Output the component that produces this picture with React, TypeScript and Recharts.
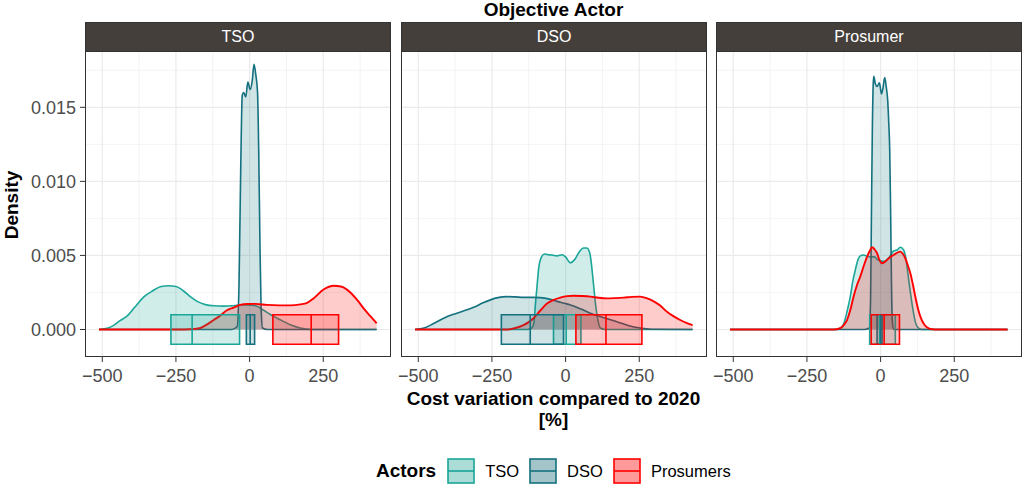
import React from "react";
import {
  ComposedChart,
  Area,
  XAxis,
  YAxis,
  CartesianGrid,
  ReferenceArea,
  ReferenceLine,
} from "recharts";

// colours per actor
const TSO_COLOR = "#1AA698";
const DSO_COLOR = "#14717F";
const PRO_COLOR = "#FF0000";

const actors = ["TSO", "DSO", "Prosumers"];
const facets = ["TSO", "DSO", "Prosumer"];

const xTicks = [-500, -250, 0, 250];
const xMinor = [-375, -125, 125, 375];
const yTicks = [0, 0.005, 0.01, 0.015];
const yMinor = [0.0025, 0.0075, 0.0125, 0.0175];

const X_DOMAIN: [number, number] = [-558.6, 479.9];
const Y_DOMAIN: [number, number] = [-0.001856, 0.018733];

// density curves: [cost variation %, density]
const tsoFacetTso: [number, number][] = [
  [-511, 0], [-480, 0.0001], [-460, 0.0003], [-440, 0.0006], [-416, 0.0009],
  [-390, 0.0015], [-359, 0.0022], [-330, 0.0026], [-300, 0.0029], [-275, 0.00295],
  [-250, 0.0029], [-224, 0.0026], [-200, 0.0022], [-178, 0.0019], [-150, 0.00168],
  [-120, 0.0016], [-90, 0.00158], [-60, 0.0016], [-37, 0.00165], [-10, 0.00165],
  [20, 0.0016], [48, 0.0013], [80, 0.0009], [110, 0.0006], [140, 0.0003],
  [172, 0.0001], [210, 0], [431, 0],
];
const tsoFacetDso: [number, number][] = [
  [-511, 0], [-60, 0], [-42, 0.0002], [-36, 0.003], [-30, 0.011], [-25, 0.0158],
  [-20, 0.016], [-13, 0.0157], [-6, 0.0167], [2, 0.0162], [9, 0.0168], [15, 0.0179],
  [21, 0.0172], [27, 0.016], [31, 0.012], [35, 0.006], [39, 0.0015], [44, 0.0001],
  [60, 0], [431, 0],
];
const tsoFacetPro: [number, number][] = [
  [-511, 0], [-220, 0], [-190, 0.00003], [-167, 0.0001], [-140, 0.0004],
  [-122, 0.00064], [-99, 0.00095], [-77, 0.0013], [-54, 0.00148], [-32, 0.00166],
  [-5, 0.00172], [20, 0.00173], [59, 0.00166], [100, 0.00163], [140, 0.00163],
  [172, 0.0017], [195, 0.0018], [217, 0.0021], [251, 0.0027], [285, 0.00295],
  [310, 0.0029], [342, 0.0025], [365, 0.002], [387, 0.00143], [410, 0.0009],
  [431, 0.00042],
];

const dsoFacetTso: [number, number][] = [
  [-511, 0], [-130, 0], [-115, 0.0001], [-108, 0.0004], [-102, 0.0018], [-97, 0.0029],
  [-91, 0.0042], [-84, 0.0048], [-72, 0.0051], [-60, 0.00505], [-46, 0.00503],
  [-29, 0.00497], [-12, 0.00505], [0, 0.0049], [16, 0.0045], [30, 0.0047],
  [45, 0.0052], [61, 0.0055], [72, 0.0055], [80, 0.0053], [86, 0.0047], [91, 0.0038],
  [97, 0.0026], [103, 0.0015], [110, 0.0006], [118, 0.0001], [135, 0], [431, 0],
];
const dsoFacetDso: [number, number][] = [
  [-511, 0], [-480, 0.0001], [-448, 0.0004], [-410, 0.0008], [-369, 0.0011],
  [-340, 0.0013], [-312, 0.0015], [-280, 0.0018], [-255, 0.002], [-230, 0.00215],
  [-200, 0.00222], [-170, 0.0022], [-143, 0.00217], [-110, 0.00217], [-86, 0.00215],
  [-55, 0.00205], [-29, 0.0019], [0, 0.00175], [16, 0.00166], [50, 0.0014],
  [84, 0.0011], [130, 0.0008], [174, 0.00053], [215, 0.00025], [253, 0.0001],
  [290, 0.00002], [431, 0],
];
const dsoFacetPro: [number, number][] = [
  [-511, 0], [-200, 0], [-170, 0.0001], [-143, 0.0003], [-125, 0.0005],
  [-108, 0.00078], [-85, 0.0013], [-63, 0.00175], [-40, 0.002], [-18, 0.00215],
  [5, 0.00225], [27, 0.00228], [55, 0.00226], [84, 0.00222], [112, 0.00214],
  [140, 0.0021], [170, 0.00212], [197, 0.00215], [225, 0.0022], [253, 0.00222],
  [277, 0.0021], [299, 0.0019], [322, 0.0016], [344, 0.0012], [366, 0.0009],
  [389, 0.00064], [410, 0.00045], [431, 0.0003],
];

const proFacetTso: [number, number][] = [
  [-511, 0], [-150, 0], [-135, 0.0001], [-125, 0.0004], [-114, 0.0012], [-103, 0.0022],
  [-94, 0.0033], [-86, 0.004], [-77, 0.0047], [-69, 0.00497], [-58, 0.00503],
  [-45, 0.00495], [-35, 0.0049], [-20, 0.0049], [-10, 0.0047], [10, 0.0046],
  [30, 0.0049], [44, 0.0053], [56, 0.00537], [67, 0.00555], [78, 0.00537],
  [85, 0.0049], [90, 0.0042], [97, 0.0031], [104, 0.0021], [111, 0.0012],
  [118, 0.0005], [126, 0.00015], [140, 0], [431, 0],
];
const proFacetDso: [number, number][] = [
  [-511, 0], [-55, 0], [-38, 0.0001], [-34, 0.002], [-31, 0.008], [-28, 0.0135],
  [-25, 0.0166], [-23, 0.0171], [-18, 0.0166], [-12, 0.0164], [-4, 0.01665],
  [3, 0.0159], [8, 0.0163], [14, 0.017], [19, 0.0164], [24, 0.0155], [28, 0.0138],
  [31, 0.0121], [34, 0.008], [37, 0.003], [40, 0.0005], [45, 0], [431, 0],
];
const proFacetPro: [number, number][] = [
  [-511, 0], [-160, 0], [-137, 0.0001], [-125, 0.0003], [-114, 0.00064], [-103, 0.0013],
  [-92, 0.0022], [-80, 0.003], [-69, 0.00357], [-57, 0.0043], [-46, 0.0049],
  [-37, 0.0053], [-29, 0.00555], [-20, 0.0054], [-12, 0.00515], [-4, 0.0047],
  [5, 0.00447], [13, 0.00455], [22, 0.0047], [33, 0.0049], [44, 0.00503],
  [56, 0.00518], [67, 0.00526], [76, 0.0051], [84, 0.00481], [93, 0.0043],
  [101, 0.0038], [110, 0.003], [118, 0.0022], [127, 0.0014], [135, 0.00087],
  [146, 0.0004], [157, 0.00015], [175, 0.00002], [195, 0], [431, 0],
];

// boxplots: [lower hinge, median, upper hinge]
const tsoFacetBoxes: [number, number, number][] = [[-267, -195, -34], [-11, 2, 17], [79, 209, 302]];
const dsoFacetBoxes: [number, number, number][] = [[-41, 2, 52], [-218, -120, -7], [35, 137, 259]];
const proFacetBoxes: [number, number, number][] = [[-37, -3, 50], [-12, 0, 5], [-32, 12, 64]];

const BOX_LOW = -0.001;
const BOX_HIGH = 0.001;

const colors = [TSO_COLOR, DSO_COLOR, PRO_COLOR];
const font = "'Liberation Sans', Arial, Helvetica, sans-serif";

const PANEL_W = 306;
const PANEL_H = 305;
const PANEL_TOP = 52;
const Y_AXIS_W = 85;
const SIDE_PAD = 24; // room for the edge tick labels of panels 2 and 3
const panelLefts = [85, 401, 716];

const minus = (v: number) => (v < 0 ? "\u2212" + Math.abs(v) : String(v));

function Panel({
  curves,
  boxes,
  showY,
}: {
  curves: [number, number][][];
  boxes: [number, number, number][];
  showY: boolean;
}) {
  return (
    <ComposedChart
      width={showY ? Y_AXIS_W + PANEL_W : PANEL_W + SIDE_PAD}
      height={PANEL_H + 45}
      margin={{ top: 0, right: 0, bottom: 0, left: showY ? 0 : SIDE_PAD }}
      style={{ fontFamily: font }}
    >
      <CartesianGrid
        horizontalValues={yMinor}
        verticalValues={xMinor}
        stroke="#ebebeb"
        strokeWidth={0.6}
      />
      <CartesianGrid
        horizontalValues={yTicks}
        verticalValues={xTicks}
        stroke="#ebebeb"
        strokeWidth={1.2}
      />
      <XAxis
        type="number"
        dataKey="x"
        domain={X_DOMAIN}
        ticks={xTicks}
        interval={0}
        allowDataOverflow
        tickFormatter={minus}
        tickSize={5}
        tickMargin={7}
        height={45}
        axisLine={false}
        tickLine={{ stroke: "#333333" }}
        tick={{ fontSize: 18, fill: "#4d4d4d" }}
      />
      <YAxis
        type="number"
        domain={Y_DOMAIN}
        ticks={yTicks}
        interval={0}
        allowDataOverflow
        hide={!showY}
        width={Y_AXIS_W}
        tickFormatter={(v: number) => v.toFixed(3)}
        tickSize={5}
        tickMargin={4}
        axisLine={false}
        tickLine={{ stroke: "#333333" }}
        tick={{ fontSize: 18, fill: "#4d4d4d" }}
      />
      {curves.map((c, i) => (
        <Area
          key={actors[i]}
          data={c.map(([x, y]) => ({ x, y }))}
          dataKey="y"
          type="monotone"
          baseValue={0}
          stroke={colors[i]}
          strokeWidth={i === 2 ? 1.9 : 1.6}
          fill={colors[i]}
          fillOpacity={0.2}
          dot={false}
          activeDot={false}
          isAnimationActive={false}
        />
      ))}
      {boxes.map(([lo, , hi], i) => (
        <ReferenceArea
          key={"box" + i}
          x1={lo}
          x2={hi}
          y1={BOX_LOW}
          y2={BOX_HIGH}
          fill={colors[i]}
          fillOpacity={0.2}
          stroke={colors[i]}
          strokeWidth={1.6}
          ifOverflow="visible"
          zIndex={110}
        />
      ))}
      {boxes.map(([, med], i) => (
        <ReferenceLine
          key={"med" + i}
          segment={[
            { x: med, y: BOX_LOW },
            { x: med, y: BOX_HIGH },
          ]}
          stroke={colors[i]}
          strokeWidth={1.6}
          ifOverflow="visible"
          zIndex={120}
        />
      ))}
    </ComposedChart>
  );
}

const facetCurves = [
  [tsoFacetTso, tsoFacetDso, tsoFacetPro],
  [dsoFacetTso, dsoFacetDso, dsoFacetPro],
  [proFacetTso, proFacetDso, proFacetPro],
];
const facetBoxes = [tsoFacetBoxes, dsoFacetBoxes, proFacetBoxes];

const legendKeyFill = ["#acdcd6", "#a3c5c9", "#ff9a9a"];

export default function App() {
  return (
    <div
      style={{
        position: "absolute",
        left: 0,
        top: 0,
        width: 1024,
        height: 491,
        background: "#fff",
        fontFamily: font,
        overflow: "hidden",
      }}
    >
      <div
        style={{
          position: "absolute",
          left: 85,
          width: 937,
          top: 0,
          textAlign: "center",
          fontWeight: "bold",
          fontSize: 19,
          lineHeight: "20px",
        }}
      >
        Objective Actor
      </div>

      {facets.map((f, i) => (
        <React.Fragment key={f}>
          <div
            style={{
              position: "absolute",
              left: i === 0 ? 0 : panelLefts[i] - SIDE_PAD,
              top: PANEL_TOP,
            }}
          >
            <Panel curves={facetCurves[i]} boxes={facetBoxes[i]} showY={i === 0} />
          </div>
          <div
            style={{
              position: "absolute",
              left: panelLefts[i],
              top: 22,
              width: PANEL_W,
              height: 30,
              boxSizing: "border-box",
              background: "#453f3c",
              border: "1px solid #333333",
              color: "#fff",
              fontSize: 16,
              lineHeight: "28px",
              textAlign: "center",
            }}
          >
            {f}
          </div>
          <div
            style={{
              position: "absolute",
              left: panelLefts[i],
              top: PANEL_TOP,
              width: PANEL_W,
              height: PANEL_H,
              boxSizing: "border-box",
              border: "1px solid #333333",
              borderTop: "none",
              pointerEvents: "none",
            }}
          />
        </React.Fragment>
      ))}

      <div
        style={{
          position: "absolute",
          left: 2,
          top: 205,
          transform: "translate(0, -50%) rotate(-90deg)",
          transformOrigin: "center",
          width: 20,
          fontWeight: "bold",
          fontSize: 19,
          lineHeight: "20px",
          whiteSpace: "nowrap",
          display: "flex",
          justifyContent: "center",
        }}
      >
        Density
      </div>

      <div
        style={{
          position: "absolute",
          left: 85,
          width: 937,
          top: 388,
          textAlign: "center",
          fontWeight: "bold",
          fontSize: 19,
          lineHeight: "21px",
        }}
      >
        Cost variation compared to 2020
        <br />
        [%]
      </div>

      <div
        style={{
          position: "absolute",
          left: 376,
          top: 458,
          height: 26,
          display: "flex",
          alignItems: "center",
          fontSize: 16.5,
        }}
      >
        <span style={{ fontWeight: "bold", fontSize: 19, marginRight: 11 }}>Actors</span>
        {actors.map((a, i) => (
          <React.Fragment key={a}>
            <svg width={28} height={26} style={{ marginRight: 10 }}>
              <rect
                x={1}
                y={1}
                width={26}
                height={24}
                fill={legendKeyFill[i]}
                stroke={colors[i]}
                strokeWidth={1.6}
              />
              <line x1={1} x2={27} y1={13} y2={13} stroke={colors[i]} strokeWidth={1.6} />
            </svg>
            <span style={{ marginRight: 10 }}>{a}</span>
          </React.Fragment>
        ))}
      </div>
    </div>
  );
}
